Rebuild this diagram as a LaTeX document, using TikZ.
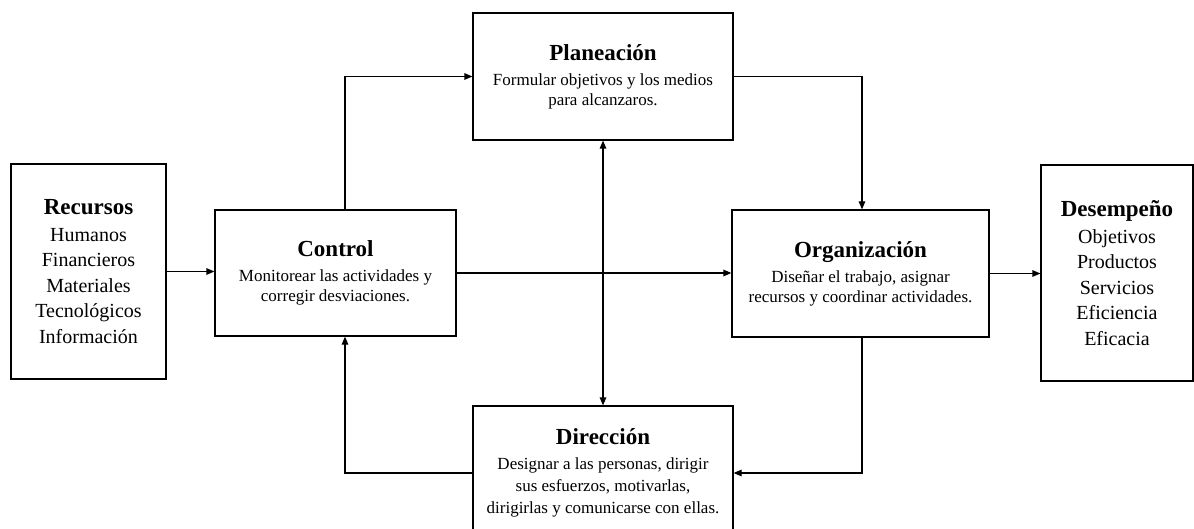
\documentclass[tikz,border=0pt]{standalone}
\usepackage{fontspec}
\setmainfont{Liberation Serif}
\usetikzlibrary{arrows.meta}
\begin{document}
\begin{tikzpicture}[x=1pt,y=-1pt,
  box/.style={draw, line width=1.2pt, inner sep=0pt, align=center,
    font=\fontsize{17}{20}\selectfont},
  listbox/.style={draw, line width=1.2pt, inner sep=0pt, align=center,
    font=\fontsize{20}{25.5}\selectfont},
  arr/.style={line width=1.2pt, -{Triangle[length=8pt,width=6.5pt]}},
  darr/.style={line width=1.2pt, {Triangle[length=8pt,width=6.5pt]}-{Triangle[length=8pt,width=6.5pt]}}]
\useasboundingbox (0,0) rectangle (1194,529);
\clip (0,0) rectangle (1194,529);
\fill[white] (0,0) rectangle (1194,529);

\node[listbox, minimum width=155pt, minimum height=215pt] (rec) at (88.5,271.5)
  {{\fontsize{23}{26}\selectfont\bfseries Recursos}\\[1pt]
   Humanos\\ Financieros\\ Materiales\\ Tecnológicos\\ Información};

\node[box, minimum width=241pt, minimum height=126pt] (ctrl) at (335.5,273)
  {{\fontsize{23}{26}\selectfont\bfseries Control}\\[5pt]
   Monitorear las actividades y\\ corregir desviaciones.};

\node[box, minimum width=260pt, minimum height=127pt] (plan) at (603,76.5)
  {{\fontsize{23}{26}\selectfont\bfseries Planeación}\\[5pt]
   Formular objetivos y los medios\\ para alcanzaros.};

\node[box, minimum width=257pt, minimum height=127pt] (org) at (860.5,273.5)
  {{\fontsize{23}{26}\selectfont\bfseries Organización}\\[5pt]
   Diseñar el trabajo, asignar\\ recursos y coordinar actividades.};

\node[box, minimum width=260pt, minimum height=134pt,
  font=\fontsize{17}{22}\selectfont] (dir) at (603,473)
  {{\fontsize{23}{26}\selectfont\bfseries Dirección}\\[3pt]
   Designar a las personas, dirigir\\ sus esfuerzos, motivarlas,\\ dirigirlas y comunicarse con ellas.};

\node[listbox, minimum width=152pt, minimum height=216pt] (des) at (1117,273)
  {{\fontsize{23}{26}\selectfont\bfseries Desempeño}\\[1pt]
   Objetivos\\ Productos\\ Servicios\\ Eficiencia\\ Eficacia};

% connectors
\draw[arr] (rec.east) -- (rec.east -| ctrl.west);
\draw[arr] (ctrl.east) -- (ctrl.east -| org.west);
\draw[arr] (org.east) -- (org.east -| des.west);
\draw[arr] ([xshift=9.5pt]ctrl.north) |- (plan.west);
\draw[arr] (plan.east) -| ([xshift=1.5pt]org.north);
\draw[arr] ([xshift=1.5pt]org.south) |- (dir.east);
\draw[arr] (dir.west) -| ([xshift=9.5pt]ctrl.south);
\draw[darr] (plan.south) -- (dir.north);
\end{tikzpicture}
\end{document}
